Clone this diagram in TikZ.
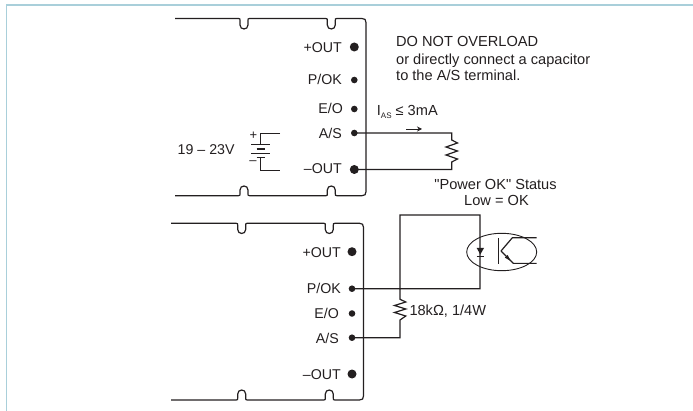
\documentclass[tikz,border=0pt]{standalone}
\usepackage{fontspec}
\setmainfont{Liberation Sans}[Ligatures=TeXOff]
\usepackage{xcolor}
\definecolor{inkdark}{HTML}{231F20}
\definecolor{panelblue}{HTML}{A9CFDA}
\usetikzlibrary{arrows.meta,shapes.geometric}

\begin{document}
\begin{tikzpicture}[x=1pt,y=-1pt,
		boxline/.style={color=inkdark, line width=1.2pt},
		wire/.style={color=inkdark, line width=1.2pt},
		thinwire/.style={color=inkdark, line width=0.9pt},
		bigdot/.style={circle, fill=inkdark, inner sep=0pt, minimum size=9pt},
		smalldot/.style={circle, fill=inkdark, inner sep=0pt, minimum size=6.6pt},
		term/.style={anchor=base east, inner sep=0pt, color=inkdark, font=\fontsize{14.2}{16}\selectfont},
		note/.style={anchor=base west, inner sep=0pt, color=inkdark, font=\fontsize{14.6}{16}\selectfont}]
	\useasboundingbox (0,0) rectangle (693,411);

	% outer panel
	\draw[color=panelblue, line width=1.5pt] (6.5,411) -- (6.5,5) -- (693,5);

	% upper module
	\draw[boxline] (175,18.5) -- (238.5,18.5) .. controls (240,18.5) and (240,19) .. (240,20.5)
		-- (240,25) .. controls (240,30.3) and (248,30.3) .. (248,25) -- (248,20.5)
		.. controls (248,19) and (248,18.5) .. (249.5,18.5) -- (325.8,18.5)
		.. controls (327.3,18.5) and (327.3,19) .. (327.3,20.5)
		-- (327.3,25) .. controls (327.3,30.3) and (335.3,30.3) .. (335.3,25) -- (335.3,20.5)
		.. controls (335.3,19) and (335.3,18.5) .. (336.8,18.5) -- (362,18.5)
		.. controls (364.8,18.5) and (366,19.7) .. (366,22.5) -- (366,191.7)
		.. controls (366,194.5) and (364.8,195.7) .. (362,195.7) -- (336.8,195.7)
		.. controls (335.3,195.7) and (335.3,195.2) .. (335.3,193.7) -- (335.3,190)
		.. controls (335.3,184.7) and (327.3,184.7) .. (327.3,190) -- (327.3,193.7)
		.. controls (327.3,195.2) and (327.3,195.7) .. (325.8,195.7) -- (249.5,195.7)
		.. controls (248,195.7) and (248,195.2) .. (248,193.7) -- (248,190)
		.. controls (248,184.7) and (240,184.7) .. (240,190) -- (240,193.7)
		.. controls (240,195.2) and (240,195.7) .. (238.5,195.7) -- (175,195.7);

	\node[bigdot] (plusouta) at (354.3,47) {};
	\node[smalldot] (pokay) at (354.3,80) {};
	\node[smalldot] (eoa) at (354.3,109) {};
	\node[smalldot] (asa) at (354.3,133) {};
	\node[bigdot] (minusouta) at (354.3,169.5) {};

	\node[term] (lplusouta) at (342,52.7) {+OUT};
	\node[term] (lpokay) at (342,85) {P/OK};
	\node[term] (leoa) at (343,113.3) {E/O};
	\node[term] (lasa) at (342,139) {A/S};
	\node[term] (lminusouta) at (342,173.3) {–OUT};

	% supply
	\node[note, font=\fontsize{14.2}{16}\selectfont] (supply) at (177.5,154.3) {19 – 23V};
	\node[inner sep=0pt, color=inkdark, font=\fontsize{13}{15}\selectfont] (batplus) at (253.3,135.5) {+};
	\node[inner sep=0pt, color=inkdark, font=\fontsize{13}{15}\selectfont] (batminus) at (253,163) {–};
	\coordinate (battop) at (280,133.3);
	\coordinate (batbot) at (280,170);
	\draw[thinwire] (battop) -- (260.5,133.3) -- (260.5,144.3);
	\draw[thinwire] (251,144.3) -- (270,144.3);
	\draw[thinwire, line width=1.3pt] (256.7,149) -- (265,149);
	\draw[thinwire] (251,153) -- (270,153);
	\draw[thinwire, line width=1.3pt] (256.7,157.3) -- (265,157.3);
	\draw[thinwire] (260.5,157.3) -- (260.5,170) -- (batbot);

	% warning text
	\node[note] (warna) at (396,46.7) {DO NOT OVERLOAD};
	\node[note] (warnb) at (396,64.3) {or directly connect a capacitor};
	\node[note] (warnc) at (396,80.7) {to the A/S terminal.};

	% load on A/S
	\node[note] (ias) at (376.7,116) {I\raisebox{-3pt}{\fontsize{8}{9}\selectfont AS} ≤ 3mA};
	\coordinate (arrowa) at (406,129);
	\coordinate (arrowb) at (422,129);
	\draw[thinwire, -{Stealth[length=5pt,width=5pt]}] (arrowa) -- (arrowb);
	\coordinate (loadtop) at (451.7,133);
	\coordinate (loadbot) at (451.7,169.5);
	\draw[wire] (asa.center) -- (loadtop) -- (451.7,140) -- (457.5,143) -- (446,147) -- (457.5,151)
		-- (446,155) -- (457.5,159) -- (451.7,162) -- (loadbot) -- (minusouta.center);

	\node[note, anchor=base] (statusa) at (495.5,189.3) {"Power OK" Status};
	\node[note, anchor=base] (statusb) at (496.5,206) {Low = OK};

	% lower module
	\draw[boxline] (171,223.3) -- (236.2,223.3) .. controls (237.7,223.3) and (237.7,223.8) .. (237.7,225.3)
		-- (237.7,229.5) .. controls (237.7,234.8) and (245.7,234.8) .. (245.7,229.5) -- (245.7,225.3)
		.. controls (245.7,223.8) and (245.7,223.3) .. (247.2,223.3) -- (323.8,223.3)
		.. controls (325.3,223.3) and (325.3,223.8) .. (325.3,225.3)
		-- (325.3,229.5) .. controls (325.3,234.8) and (333.3,234.8) .. (333.3,229.5) -- (333.3,225.3)
		.. controls (333.3,223.8) and (333.3,223.3) .. (334.8,223.3) -- (359.5,223.3)
		.. controls (362.3,223.3) and (363.5,224.5) .. (363.5,227.3) -- (363.5,396)
		.. controls (363.5,398.8) and (362.3,400) .. (359.5,400) -- (334.8,400)
		.. controls (333.3,400) and (333.3,399.5) .. (333.3,398) -- (333.3,394)
		.. controls (333.3,388.7) and (325.3,388.7) .. (325.3,394) -- (325.3,398)
		.. controls (325.3,399.5) and (325.3,400) .. (323.8,400) -- (247.2,400)
		.. controls (245.7,400) and (245.7,399.5) .. (245.7,398) -- (245.7,394)
		.. controls (245.7,388.7) and (237.7,388.7) .. (237.7,394) -- (237.7,398)
		.. controls (237.7,399.5) and (237.7,400) .. (236.2,400) -- (171,400);

	\node[bigdot] (plusoutb) at (352,251.7) {};
	\node[smalldot] (pokb) at (352,288.7) {};
	\node[smalldot] (eob) at (352,313.5) {};
	\node[smalldot] (asb) at (352,337.7) {};
	\node[bigdot] (minusoutb) at (352,374) {};

	\node[term] (lplusoutb) at (341,257.3) {+OUT};
	\node[term] (lpokb) at (341,294) {P/OK};
	\node[term] (leob) at (339,318.3) {E/O};
	\node[term] (lasb) at (339,343.3) {A/S};
	\node[term] (lminusoutb) at (341,379.3) {–OUT};

	% pull-up and opto
	\coordinate (loopa) at (480,288.7);
	\coordinate (loopb) at (480,215);
	\coordinate (loopc) at (400,215);
	\coordinate (loopd) at (400,288.7);
	\draw[wire] (pokb.center) -- (loopa) -- (loopb) -- (loopc) -- (loopd)
		-- (400,299.3) -- (405.8,302) -- (394.5,305.5) -- (405.8,309) -- (394.5,312.5) -- (405.8,316)
		-- (400,320) -- (400,337.7) -- (asb.center);
	\node[note] (pullup) at (409.3,316) {18kΩ, 1/4W};

	\node[draw=inkdark, line width=0.9pt, ellipse, minimum width=70pt, minimum height=37.4pt, inner sep=0pt] (opto) at (501.7,252) {};
	\fill[inkdark] (476.7,248) -- (484,248) -- (480.3,254.5) -- cycle;
	\draw[wire] (476.7,256.7) -- (484,256.7);
	\draw[wire] (498.2,237.8) -- (498.2,264.5);
	\coordinate (colout) at (536.5,237.8);
	\coordinate (emout) at (536.5,263.4);
	\draw[wire] (501,251) -- (512.3,237.8) -- (colout);
	\draw[wire] (501,251) -- (513.3,263.4) -- (emout);
	\fill[inkdark] (510.5,260.8) -- (504.8,257.6) -- (507.7,255) -- cycle;
\end{tikzpicture}
\end{document}
